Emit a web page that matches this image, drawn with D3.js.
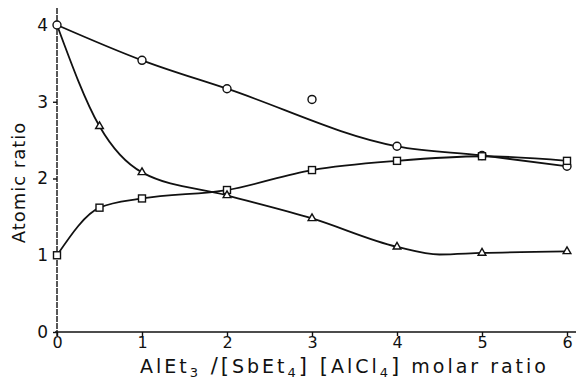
<!DOCTYPE html>
<html>
<head>
<meta charset="utf-8">
<script src="https://cdn.jsdelivr.net/npm/d3@7"></script>
<style>
  body { margin: 0; background: #fff; }
  text { font-family: 'DejaVu Sans', sans-serif; fill: #111; }
</style>
</head>
<body>
<div id="chart"></div>
<script>
// data
const xTicks = [0, 1, 2, 3, 4, 5, 6];
const yTicks = [0, 1, 2, 3, 4];

const circleX = [0, 1, 2, 3, 4, 5, 6];
const circleY = [4.0, 3.54, 3.17, 3.03, 2.42, 2.3, 2.16];
// hand-drawn curve through circles skips the stray point at 3
const circleCurveX = [0, 1, 2, 4, 5, 6];
const circleCurveY = [4.0, 3.54, 3.17, 2.42, 2.3, 2.16];

const squareX = [0, 0.5, 1, 2, 3, 4, 5, 6];
const squareY = [1.0, 1.62, 1.74, 1.85, 2.11, 2.23, 2.29, 2.23];

const triX = [0, 0.5, 1, 2, 3, 4, 5, 6];
const triY = [4.0, 2.68, 2.08, 1.78, 1.48, 1.11, 1.03, 1.05];
// the drawn triangle curve dips a little between 4 and 5
const triCurveX = [0, 0.5, 1, 2, 3, 4, 4.5, 5, 6];
const triCurveY = [4.0, 2.68, 2.08, 1.78, 1.48, 1.11, 1.01, 1.03, 1.05];

const width = 577, height = 381;
const margin = { left: 57, right: 7, top: 25, bottom: 49 };

const svg = d3.select('#chart')
  .append('svg')
  .attr('width', width)
  .attr('height', height);

const x = d3.scaleLinear().domain([0, 6]).range([margin.left, 567]);
const y = d3.scaleLinear().domain([0, 4]).range([332, margin.top]);

// axes
const axisX = d3.axisBottom(x).tickValues(xTicks).tickSize(4).tickFormat(d3.format('d'));
const axisY = d3.axisLeft(y).tickValues(yTicks).tickSize(4).tickFormat(d3.format('d'));

const gx = svg.append('g').attr('transform', `translate(0,${y(0)})`).call(axisX);
gx.select('.domain').remove();
gx.append('line').attr('x1', x(0) - 2).attr('x2', 576).attr('y1', 0).attr('y2', 0)
  .attr('stroke', '#111').attr('stroke-width', 1.6);
gx.selectAll('.tick line').attr('stroke', '#111').attr('stroke-width', 1.4);
gx.selectAll('.tick text').attr('y', 5).style('font-size', '16px');

const gy = svg.append('g').attr('transform', `translate(${x(0)},0)`).call(axisY);
gy.select('.domain').remove();
gy.append('line').attr('x1', 0).attr('x2', 0).attr('y1', 8).attr('y2', y(0) + 4)
  .attr('stroke', '#111').attr('stroke-width', 1.4).attr('stroke-dasharray', '6,1');
gy.selectAll('.tick line').attr('stroke', '#111').attr('stroke-width', 1.4);
gy.selectAll('.tick text').attr('x', -9).style('font-size', '17px');

// axis titles
svg.append('text')
  .attr('transform', `translate(25,${(y(0) + y(4)) / 2 + 4}) rotate(-90)`)
  .attr('text-anchor', 'middle')
  .style('font-size', '18px')
  .style('letter-spacing', '1px')
  .text('Atomic ratio');

const xt = svg.append('text')
  .attr('x', 140).attr('y', 373)
  .style('font-size', '19px')
  .style('letter-spacing', '3px');
xt.append('tspan').text('AlEt');
xt.append('tspan').attr('dy', 4).style('font-size', '13px').text('3');
xt.append('tspan').attr('dy', -4).style('font-size', '21px').text(' /[');
xt.append('tspan').text('SbEt');
xt.append('tspan').attr('dy', 4).style('font-size', '13px').text('4');
xt.append('tspan').attr('dy', -4).style('font-size', '21px').text('] [');
xt.append('tspan').text('AlCl');
xt.append('tspan').attr('dy', 4).style('font-size', '13px').text('4');
xt.append('tspan').attr('dy', -4).style('font-size', '21px').text(']');
xt.append('tspan').text(' molar  ratio');

// curves
const line = d3.line().x(d => x(d[0])).y(d => y(d[1]));
const draw = (xs, ys, curve) => svg.append('path')
  .attr('d', line.curve(curve)(d3.zip(xs, ys)))
  .attr('fill', 'none').attr('stroke', '#111').attr('stroke-width', 1.8);

draw(circleCurveX, circleCurveY, d3.curveMonotoneX);
draw(squareX, squareY, d3.curveMonotoneX);
draw(triCurveX, triCurveY, d3.curveMonotoneX);

// markers
const markStyle = g => g.attr('fill', '#fff').attr('stroke', '#111').attr('stroke-width', 1.4);

svg.append('g').call(markStyle)
  .selectAll('circle').data(d3.zip(circleX, circleY)).join('circle')
  .attr('cx', d => x(d[0])).attr('cy', d => y(d[1])).attr('r', 4);

svg.append('g').call(markStyle)
  .selectAll('rect').data(d3.zip(squareX, squareY)).join('rect')
  .attr('x', d => x(d[0]) - 3.5).attr('y', d => y(d[1]) - 3.5)
  .attr('width', 7).attr('height', 7);

const tri = d3.symbol().type(d3.symbolTriangle).size(26);
svg.append('g').call(markStyle)
  .selectAll('path').data(d3.zip(triX, triY).slice(1)).join('path')
  .attr('transform', d => `translate(${x(d[0])},${y(d[1])})`)
  .attr('d', tri);
</script>
</body>
</html>
